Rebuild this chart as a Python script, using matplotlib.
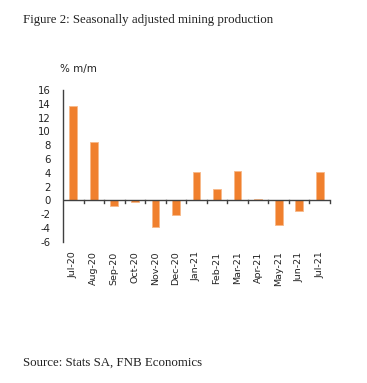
import matplotlib
matplotlib.use("Agg")
import matplotlib.pyplot as plt
import numpy as np

months = ["Jul-20", "Aug-20", "Sep-20", "Oct-20", "Nov-20", "Dec-20", "Jan-21",
          "Feb-21", "Mar-21", "Apr-21", "May-21", "Jun-21", "Jul-21"]
values = [13.7, 8.45, -0.85, -0.3, -3.8, -2.2, 4.1, 1.6, 4.2, 0.2, -3.6, -1.5, 4.1]
yticks = [16, 14, 12, 10, 8, 6, 4, 2, 0, -2, -4, -6]

W, H = 367, 383
fig = plt.figure(figsize=(W/100, H/100), dpi=100)
fig.patch.set_facecolor("white")

ax = fig.add_axes([63/W, 1-241.7/H, (330-63)/W, (241.7-90)/H])
x = np.arange(len(months))
ax.bar(x, values, width=0.38, color="#F0802E", edgecolor="#F8B888", linewidth=0.6, zorder=2)
ax.set_xlim(-0.5, len(months)-0.5)
ax.set_ylim(-6, 16)
ax.axhline(0, color="#404040", lw=1.0, zorder=3)
# boundary ticks on zero line
for b in np.arange(0.5, len(months), 1.0):
    ax.plot([b, b], [0, -0.45], color="#404040", lw=1.0, zorder=3, clip_on=False)

for s in ["top", "right", "bottom"]:
    ax.spines[s].set_visible(False)
ax.spines["left"].set_color("#404040")
ax.spines["left"].set_linewidth(1.0)

ax.set_yticks(yticks)
ax.set_yticklabels([str(v) for v in yticks], fontsize=7.3, color="#222222")
ax.tick_params(axis="y", length=0, pad=9)
ax.set_xticks(x)
ax.set_xticklabels(months, rotation=90, fontsize=6.8, color="#222222")
ax.tick_params(axis="x", length=0, pad=7)

fig.text(60/W, 1-69/H, "% m/m", fontsize=7.5, color="#222222", va="center", ha="left")

fig.text(23/W, 1-20/H, "Figure 2: Seasonally adjusted mining production",
         fontsize=9.3, family="Liberation Serif", color="#222222", va="center", ha="left")
fig.text(23/W, 1-363/H, "Source: Stats SA, FNB Economics",
         fontsize=9.3, family="Liberation Serif", color="#222222", va="center", ha="left")

fig.savefig("out.png", dpi=100)
